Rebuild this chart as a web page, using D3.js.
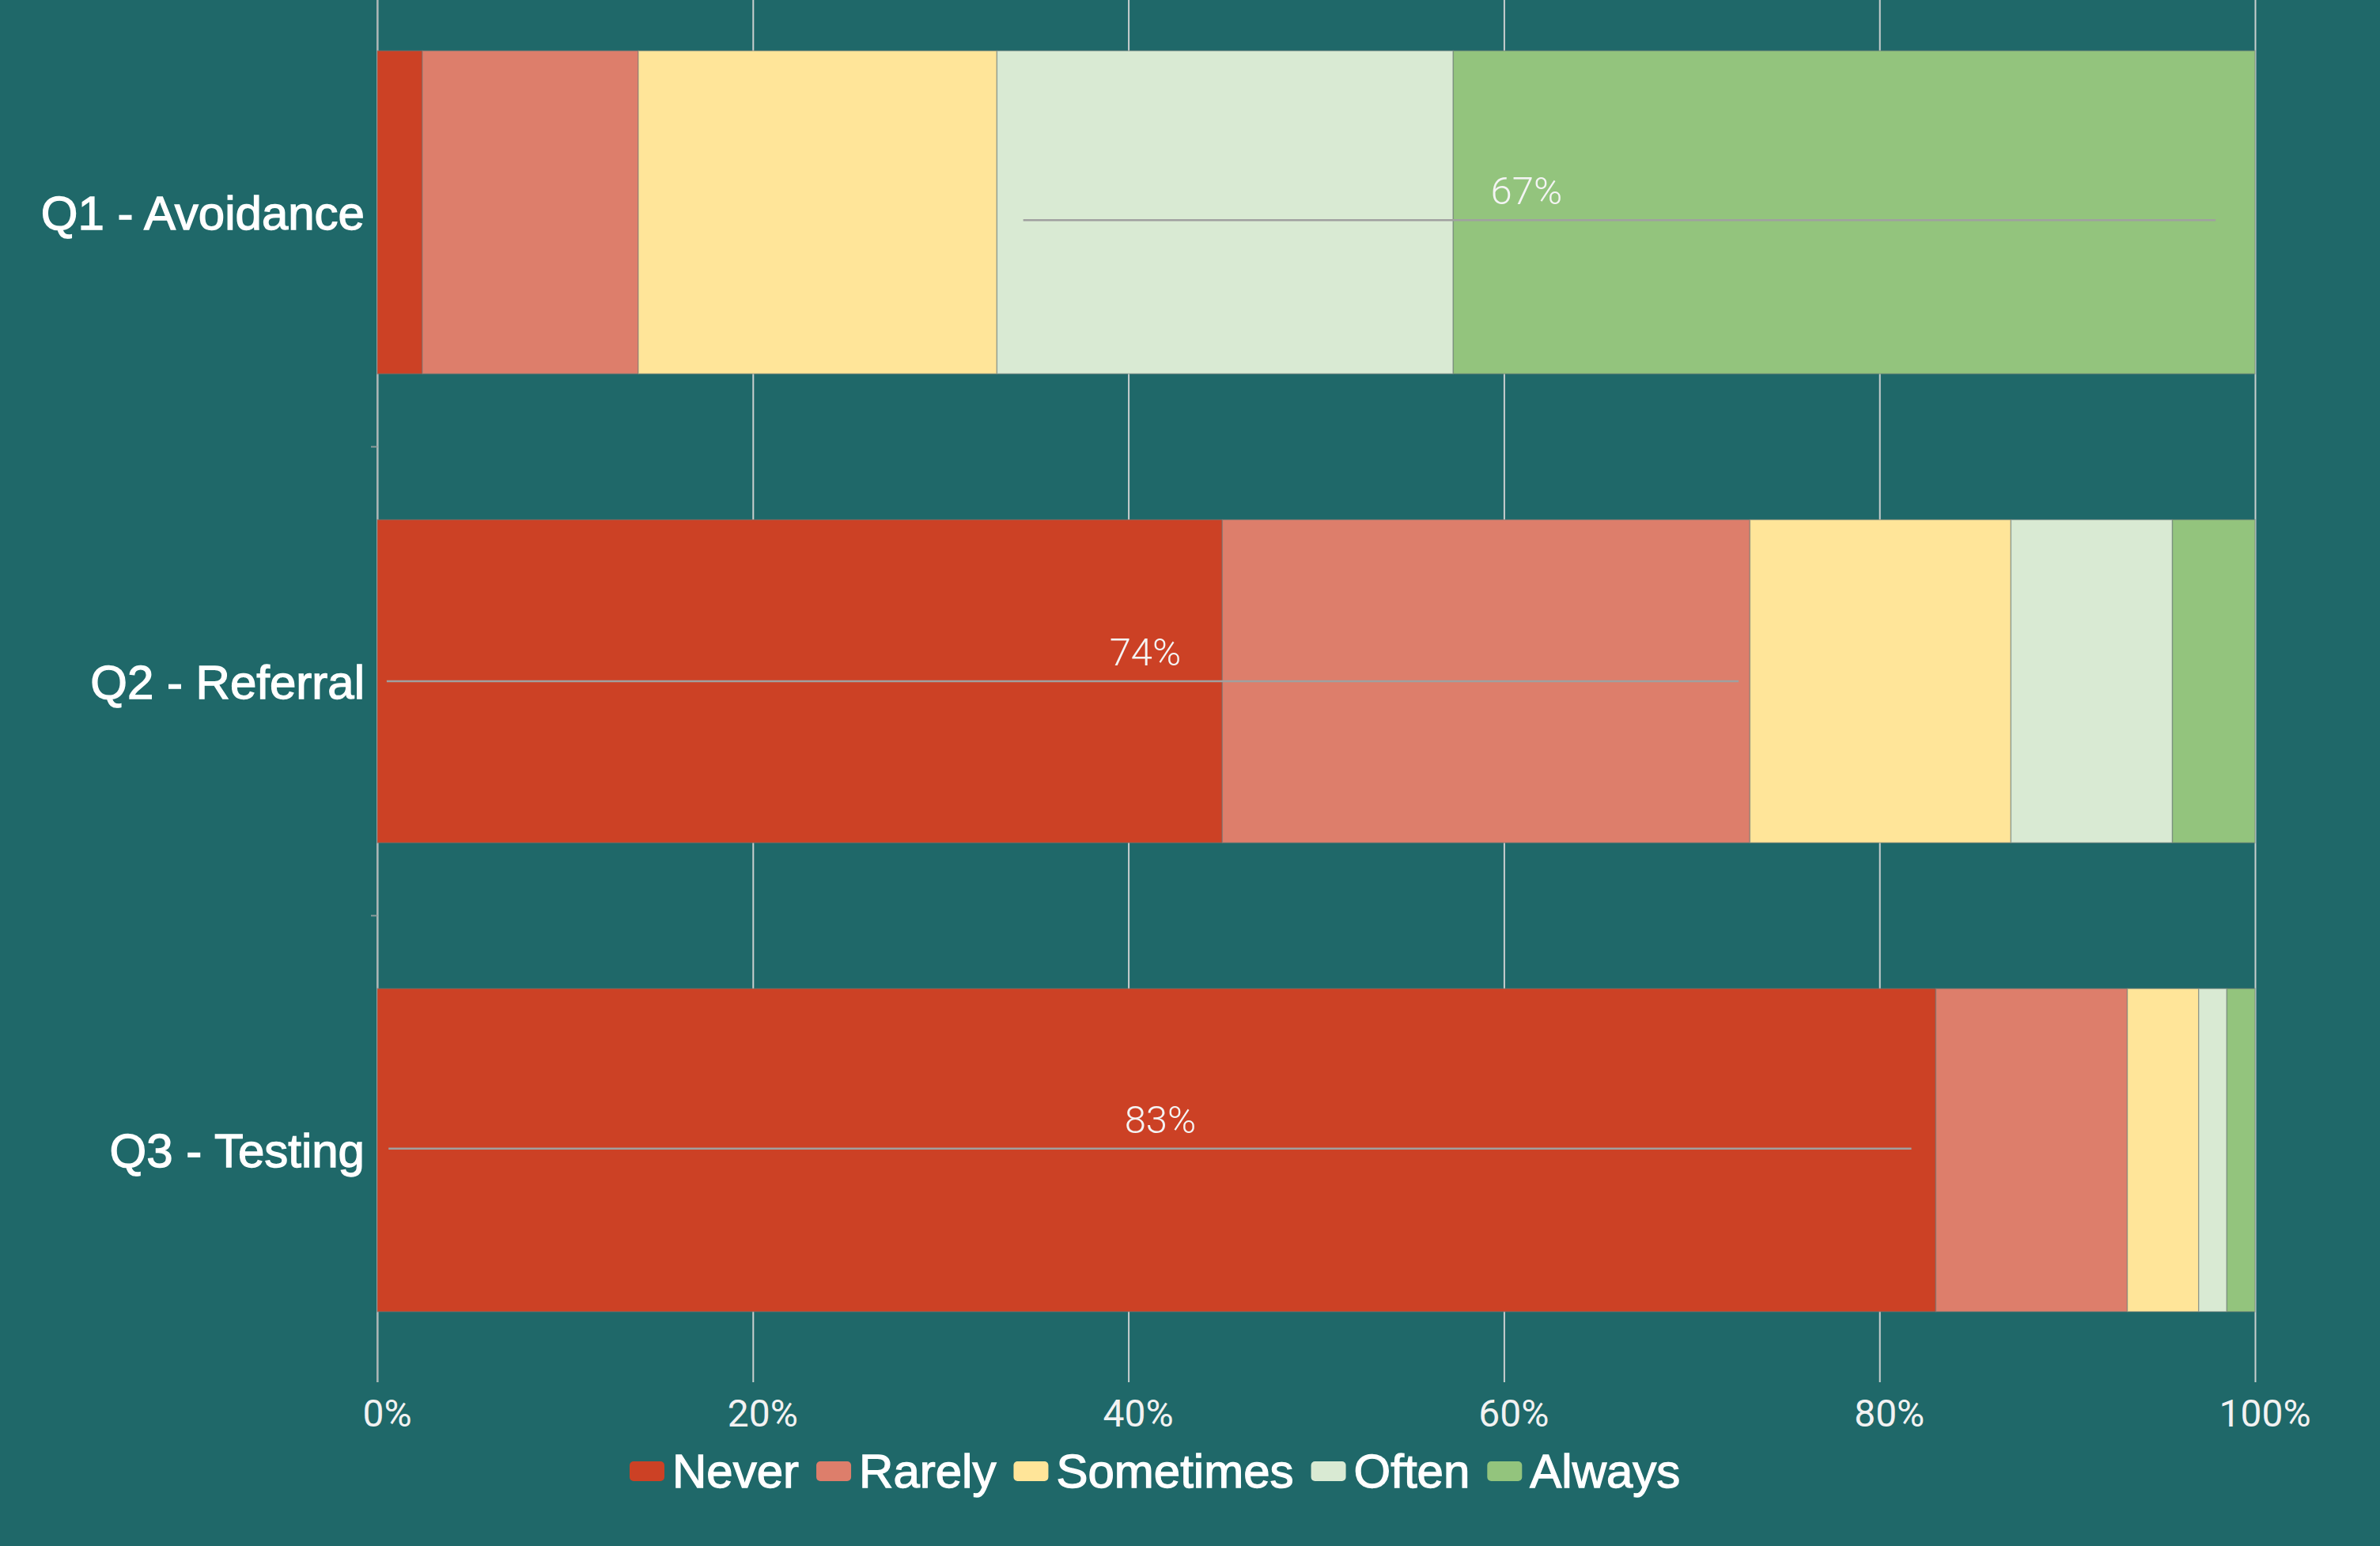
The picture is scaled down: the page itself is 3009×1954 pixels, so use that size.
<!DOCTYPE html>
<html>
<head>
<meta charset="utf-8">
<script src="https://cdn.jsdelivr.net/npm/d3@7"></script>
<style>
  body { margin: 0; background: #1f6869; }
  svg { display: block; }
</style>
</head>
<body>
<div id="chart"></div>
<script>
// categories and series (percent of answers)
const categories = ["Q1 - Avoidance", "Q2 - Referral", "Q3 - Testing"];
const seriesNames = ["Never", "Rarely", "Sometimes", "Often", "Always"];
const never     = [2.4, 45.0, 83.0];
const rarely    = [11.5, 28.1, 10.2];
const sometimes = [19.1, 13.9, 3.8];
const often     = [24.3, 8.6, 1.5];
const always    = [42.7, 4.4, 1.5];
const xTicks = [0, 20, 40, 60, 80, 100];

// annotation lines drawn over the bars
const noteLabels = ["67%", "74%", "83%"];
const noteStart  = [34.4, 0.5, 0.6];
const noteEnd    = [97.9, 72.5, 81.7];
const noteTextAt = [61.2, 40.9, 41.7];

const colors = ["#cc4125", "#dd7e6b", "#ffe599", "#d9ead3", "#93c47d"];
const noteShift = [10, 0, -2]; // lines aren't exactly on the bar centre

const width = 3009, height = 1954;
const plotLeft = 477, plotRight = 2851, plotTop = -28, plotBottom = 1750;

const svg = d3.select("#chart").append("svg")
    .attr("width", width)
    .attr("height", height);

svg.append("rect")
    .attr("width", width)
    .attr("height", height)
    .attr("fill", "#1f6869");

// build rows for the stack
const values = [never, rarely, sometimes, often, always];
const rows = categories.map((c, i) => {
    const row = { cat: c };
    seriesNames.forEach((s, j) => row[s] = values[j][i]);
    return row;
});
const stacked = d3.stack().keys(seriesNames)(rows);

const x = d3.scaleLinear().domain([0, 100]).range([plotLeft, plotRight]);
const y = d3.scaleBand()
    .domain(categories)
    .range([plotTop, plotBottom])
    .paddingInner(0.311)
    .paddingOuter(0.1555);
const color = d3.scaleOrdinal().domain(seriesNames).range(colors);

// x axis with gridlines
const xAxis = svg.append("g")
    .attr("transform", `translate(0,${plotBottom - 3})`)
    .call(d3.axisBottom(x)
        .tickValues(xTicks)
        .tickFormat(d => d + "%")
        .tickSizeInner(-(plotBottom - 3))
        .tickSizeOuter(0)
        .tickPadding(22));
xAxis.select(".domain").remove();
xAxis.selectAll(".tick line")
    .attr("stroke", "#c9cfcf")
    .attr("stroke-width", 2);
xAxis.selectAll(".tick text")
    .attr("fill", "#f2f2f2")
    .attr("dx", 12)
    .style("font-family", "Roboto, 'Liberation Sans', sans-serif")
    .style("font-size", "48px");

// left axis line and separator ticks
svg.append("line")
    .attr("x1", plotLeft).attr("x2", plotLeft)
    .attr("y1", 0).attr("y2", plotBottom - 3)
    .attr("stroke", "#a9b4b4")
    .attr("stroke-width", 2);

const step = y.step();
svg.selectAll(".sep")
    .data(categories.slice(0, -1))
    .enter().append("line")
    .attr("class", "sep")
    .attr("x1", plotLeft - 8).attr("x2", plotLeft)
    .attr("y1", d => y(d) + y.bandwidth() + (step - y.bandwidth()) / 2)
    .attr("y2", d => y(d) + y.bandwidth() + (step - y.bandwidth()) / 2)
    .attr("stroke", "#8a9a9a")
    .attr("stroke-width", 2);

// bars
svg.selectAll(".series")
    .data(stacked)
    .enter().append("g")
    .attr("class", "series")
    .attr("fill", d => color(d.key))
    .selectAll("rect")
    .data(d => d)
    .enter().append("rect")
    .attr("x", d => x(d[0]))
    .attr("y", d => y(d.data.cat))
    .attr("width", d => x(d[1]) - x(d[0]))
    .attr("height", y.bandwidth())
    .attr("stroke", "rgba(110,120,120,0.45)")
    .attr("stroke-width", 1.5);

// category labels
svg.selectAll(".cat")
    .data(categories)
    .enter().append("text")
    .attr("class", "cat")
    .attr("x", plotLeft - 16)
    .attr("y", d => y(d) + y.bandwidth() / 2)
    .attr("dy", "0.36em")
    .attr("text-anchor", "end")
    .attr("fill", "#ffffff")
    .attr("stroke", "#ffffff")
    .attr("stroke-width", 1.3)
    .style("font-family", "'Liberation Sans', Arial, sans-serif")
    .style("font-size", "60px")
    .text(d => d);

// annotation lines + labels
categories.forEach((c, i) => {
    const cy = y(c) + y.bandwidth() / 2 + noteShift[i];
    svg.append("line")
        .attr("x1", x(noteStart[i])).attr("x2", x(noteEnd[i]))
        .attr("y1", cy).attr("y2", cy)
        .attr("stroke", "#a0a0a0")
        .attr("stroke-width", 2.5);
    svg.append("text")
        .attr("x", x(noteTextAt[i]))
        .attr("y", cy - 20)
        .attr("text-anchor", "middle")
        .attr("fill", "#f4f4f4")
        .style("font-family", "Roboto, 'Liberation Sans', sans-serif")
        .style("font-weight", 300)
        .style("font-size", "49px")
        .text(noteLabels[i]);
});

// legend
const legend = svg.append("g").attr("transform", "translate(796,1880)");
let lx = 0;
seriesNames.forEach((s, i) => {
    legend.append("rect")
        .attr("x", lx).attr("y", -33)
        .attr("width", 44).attr("height", 25)
        .attr("rx", 5)
        .attr("fill", colors[i]);
    const t = legend.append("text")
        .attr("x", lx + 54).attr("y", 0)
        .attr("fill", "#ffffff")
        .attr("stroke", "#ffffff")
        .attr("stroke-width", 1.3)
        .style("font-family", "'Liberation Sans', Arial, sans-serif")
        .style("font-size", "60px")
        .text(s);
    lx += 54 + t.node().getComputedTextLength() + 22;
});
</script>
</body>
</html>
